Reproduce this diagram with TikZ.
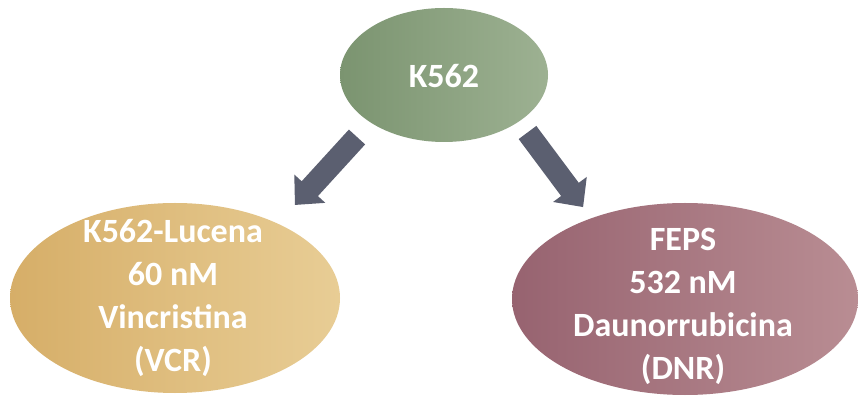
\documentclass[tikz,border=0pt]{standalone}
\usepackage{fontspec}
\setmainfont{Carlito}
\usetikzlibrary{shapes.geometric}
\definecolor{arrowc}{HTML}{5B5F70}
\definecolor{gL}{HTML}{7B9470}
\definecolor{gR}{HTML}{9DB192}
\definecolor{yL}{HTML}{D6AE68}
\definecolor{yR}{HTML}{E8CD95}
\definecolor{rL}{HTML}{976370}
\definecolor{rR}{HTML}{B98D93}
\tikzset{
  blob/.style={ellipse, draw=none, inner sep=0pt},
  lbl/.style={text=white, font=\fontsize{34}{43}\selectfont\bfseries, align=center, inner sep=0pt},
  blockarrow/.style={fill=arrowc, draw=none}
}
\begin{document}
\begin{tikzpicture}[x=1pt,y=1pt]
\useasboundingbox[fill=white] (0,0) rectangle (858,396);
% ellipses
\node[blob, minimum width=208pt, minimum height=134pt, left color=gL, right color=gR] (top) at (444,321) {};
\node[blob, minimum width=330pt, minimum height=190pt, left color=yL, right color=yR] (left) at (175,98) {};
\node[blob, minimum width=346pt, minimum height=192pt, left color=rL, right color=rR] (right) at (685,97) {};
% labels
\node[lbl] (topt) at ([yshift=-1pt]top.center) {K562};
\node[lbl] (leftt) at ([xshift=-2pt,yshift=0pt]left.center) {K562-Lucena\\60 nM\\Vincristina\\(VCR)};
\node[lbl] (rightt) at ([xshift=-2pt,yshift=-7pt]right.center) {FEPS\\532 nM\\Daunorrubicina\\(DNR)};
% block arrows
\coordinate (la) at (357,259);
\coordinate (ra) at (527.5,263.5);
\fill[blockarrow, shift={(la)}, rotate=227.6] (0,-11) -- (70,-11) -- (70,-21) -- (92,0) -- (70,21) -- (70,11) -- (0,11) -- cycle;
\fill[blockarrow, shift={(ra)}, rotate=-53.3] (0,-11) -- (71,-11) -- (71,-21) -- (93,0) -- (71,21) -- (71,11) -- (0,11) -- cycle;
\end{tikzpicture}
\end{document}
